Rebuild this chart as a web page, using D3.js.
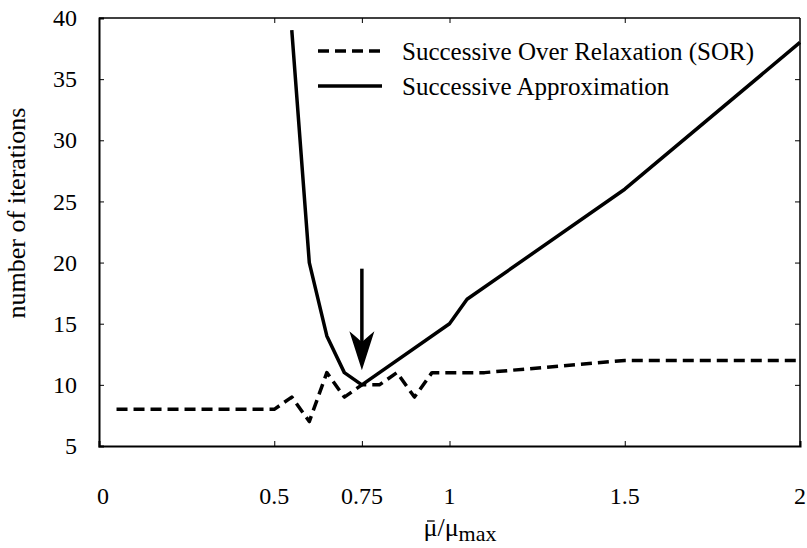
<!DOCTYPE html>
<html>
<head>
<meta charset="utf-8">
<script src="https://cdn.jsdelivr.net/npm/d3@7"></script>
<style>
  html, body { margin: 0; padding: 0; background: #fff; }
  svg { display: block; }
  text { font-family: "Liberation Serif", "Times New Roman", serif; fill: #000; }
</style>
</head>
<body>
<svg id="chart" width="807" height="548"></svg>
<script>
// ---- data ----
const sorX = [0.05, 0.5, 0.55, 0.6, 0.65, 0.7, 0.75, 0.8, 0.85, 0.9, 0.95, 1.0, 1.1, 1.5, 2.0];
const sorY = [8, 8, 9, 7, 11, 9, 10, 10, 11, 9, 11, 11, 11, 12, 12];
const saX = [0.55, 0.6, 0.65, 0.7, 0.75, 1.0, 1.05, 1.5, 2.0];
const saY = [39, 20, 14, 11, 10, 15, 17, 26, 38];
const xTicks = [0, 0.5, 0.75, 1, 1.5, 2];
const xTickLabels = ["0", "0.5", "0.75", "1", "1.5", "2"];
const yTicks = [5, 10, 15, 20, 25, 30, 35, 40];
const seriesNames = ["Successive Over Relaxation (SOR)", "Successive Approximation"];
const arrowX = 0.75, arrowFromY = 19.5, arrowToY = 11.2;
const xLabel = "μ/μ";
const xLabelSub = "max";
const yLabel = "number of iterations";

// ---- layout ----
const L = 99, R = 800, T = 18, B = 446;
const svg = d3.select("#chart");
const x = d3.scaleLinear().domain([0, 2]).range([L, R]);
const y = d3.scaleLinear().domain([5, 40]).range([B, T]);

// frame
svg.append("line").attr("x1", L).attr("x2", R).attr("y1", T).attr("y2", T).attr("stroke", "#000").attr("stroke-width", 1.5);
svg.append("line").attr("x1", R).attr("x2", R).attr("y1", T).attr("y2", B).attr("stroke", "#000").attr("stroke-width", 1.5);

// bottom axis (inward ticks)
const innerX = xTicks.filter(d => d > 0 && d < 2);
const xAxis = svg.append("g").attr("transform", `translate(0,${B})`)
  .call(d3.axisBottom(x).tickValues(innerX).tickSize(-5).tickFormat(""));
xAxis.select(".domain").attr("stroke-width", 2);
xAxis.selectAll(".tick line").attr("stroke-width", 1);
// top ticks
const xTop = svg.append("g").attr("transform", `translate(0,${T})`)
  .call(d3.axisTop(x).tickValues(innerX).tickSize(-5).tickFormat(""));
xTop.select(".domain").remove();

// x tick labels
svg.append("g").selectAll("text").data(xTicks).join("text")
  .attr("x", (d) => x(d) + (d === 0 ? 4 : d === 2 ? 0 : 0))
  .attr("y", 504)
  .attr("text-anchor", "middle")
  .attr("font-size", 24)
  .text((d, i) => xTickLabels[i]);

// left axis
const yAxis = svg.append("g").attr("transform", `translate(${L},0)`)
  .call(d3.axisLeft(y).tickValues(yTicks).tickSize(-5).tickPadding(22).tickFormat(d3.format("d")));
yAxis.select(".domain").attr("stroke-width", 2);
yAxis.selectAll(".tick text").attr("font-size", 24).attr("font-family", "Liberation Serif, serif").attr("fill", "#000");
yAxis.selectAll(".tick line").filter(d => d === 5 || d === 40).remove();
// right ticks
const yRight = svg.append("g").attr("transform", `translate(${R},0)`)
  .call(d3.axisRight(y).tickValues(yTicks.filter(d => d > 5 && d < 40)).tickSize(-5).tickFormat(""));
yRight.select(".domain").remove();

// lines
const line = d3.line().x(d => x(d[0])).y(d => y(d[1]));
svg.append("path").datum(sorX.map((v, i) => [v, sorY[i]]))
  .attr("d", line).attr("fill", "none").attr("stroke", "#000")
  .attr("stroke-width", 3.5).attr("stroke-dasharray", "11,6").attr("stroke-linejoin", "round");
svg.append("path").datum(saX.map((v, i) => [v, saY[i]]))
  .attr("d", line).attr("fill", "none").attr("stroke", "#000")
  .attr("stroke-width", 3.5).attr("stroke-linejoin", "round");

// arrow
const ax = x(arrowX), ay0 = y(arrowFromY), ay1 = y(arrowToY);
svg.append("line").attr("x1", ax).attr("x2", ax).attr("y1", ay0).attr("y2", ay1 - 25)
  .attr("stroke", "#000").attr("stroke-width", 3.5);
svg.append("path")
  .attr("d", `M${ax},${ay1} L${ax - 12.5},${ay1 - 39} Q${ax - 4},${ay1 - 32} ${ax},${ay1 - 28} Q${ax + 4},${ay1 - 32} ${ax + 12.5},${ay1 - 39} Z`)
  .attr("fill", "#000");

// legend
const lg = svg.append("g");
const rows = [51, 86];
seriesNames.forEach((name, i) => {
  lg.append("line").attr("x1", 318).attr("x2", 382).attr("y1", rows[i]).attr("y2", rows[i])
    .attr("stroke", "#000").attr("stroke-width", 3.5)
    .attr("stroke-dasharray", i === 0 ? "11,6" : null);
  lg.append("text").attr("x", 402).attr("y", rows[i] + 9).attr("font-size", 25).text(name);
});

// axis titles
const xt = svg.append("text").attr("x", 460).attr("y", 536).attr("text-anchor", "middle").attr("font-size", 26);
xt.append("tspan").text(xLabel);
xt.append("tspan").attr("font-size", 22).attr("dy", 5).text(xLabelSub);
// macron over the first mu
const ext = xt.node().getExtentOfChar(0);
svg.append("line")
  .attr("x1", ext.x + ext.width * 0.25).attr("x2", ext.x + ext.width * 0.8)
  .attr("y1", 536 - 15).attr("y2", 536 - 15)
  .attr("stroke", "#000").attr("stroke-width", 1.3);
svg.append("text").attr("transform", "translate(25,213) rotate(-90)")
  .attr("text-anchor", "middle").attr("font-size", 26).text(yLabel);
</script>
</body>
</html>
